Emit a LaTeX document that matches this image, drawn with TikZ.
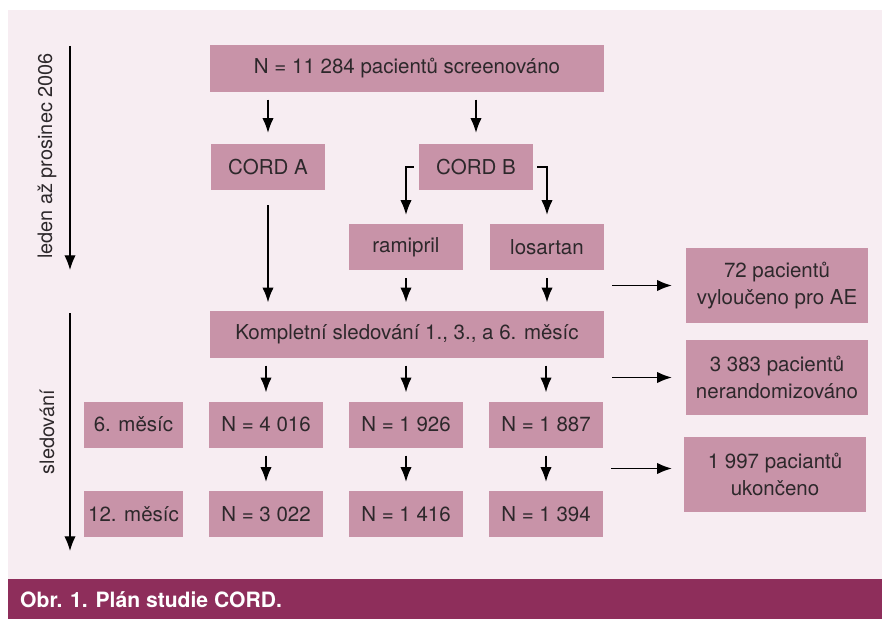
\documentclass[tikz,border=0pt]{standalone}
\usepackage{fontspec}
\setmainfont{TeX Gyre Heros}
\usepackage{xcolor}
\usepackage{tikz}
\usetikzlibrary{arrows.meta}

\definecolor{podklad}{RGB}{247,237,242}
\definecolor{ramecek}{RGB}{200,147,168}
\definecolor{lista}{RGB}{142,46,91}
\definecolor{pismo}{RGB}{45,40,43}

\tikzset{
  box/.style={fill=ramecek, text=pismo, inner sep=0pt, minimum height=1.38cm,
    font=\fontsize{17.5}{23}\selectfont, align=center},
  sipka/.style={-{Latex[length=4.4mm,width=3.4mm]}, line width=1.1pt, draw=black,
    shorten <=0.24cm, shorten >=0.27cm},
}

\begin{document}
\begin{tikzpicture}[x=0.03cm, y=-0.03cm]
\useasboundingbox (0,0) rectangle (882,619);

%% podklad a lista
\fill[white] (0,0) rectangle (882,619);
\fill[podklad] (8,10) rectangle (882,579);
\fill[lista] (8,579) rectangle (882,619);
\node[anchor=west, text=white, inner sep=0pt, font=\fontsize{18}{20}\selectfont\bfseries] (popis) at (20,600) {Obr. 1. Plán studie CORD.};

%% osa casu vlevo
\coordinate (obdobiA) at (70,46);
\coordinate (obdobiB) at (70,270);
\coordinate (sledA) at (70,313);
\coordinate (sledB) at (70,551);
\draw[sipka, shorten <=0pt, shorten >=0pt] (obdobiA) -- (obdobiB);
\draw[sipka, shorten <=0pt, shorten >=0pt] (sledA) -- (sledB);
\node[rotate=90, text=pismo, font=\fontsize{17}{20}\selectfont] (obdobi) at (47,156) {leden až prosinec 2006};
\node[rotate=90, text=pismo, font=\fontsize{17}{20}\selectfont] (sledovani) at (47,432) {sledování};

%% screening a ramena
\node[box, minimum width=11.82cm] (screen) at (407,68.5) {N = 11 284 pacientů screenováno};
\node[box, minimum width=3.42cm] (cordA) at (268,167) {CORD A};
\node[box, minimum width=3.42cm] (cordB) at (476,167) {CORD B};
\node[box, minimum width=3.42cm] (ramipril) at (406,247) {ramipril};
\node[box, minimum width=3.42cm] (losartan) at (547,247) {losartan};
\node[box, minimum width=11.82cm] (kompl) at (407,334.5) {Kompletní sledování 1., 3., a 6. měsíc};

%% mesice
\node[box, minimum width=2.97cm] (mes6) at (133.5,424.5) {6. měsíc};
\node[box, minimum width=2.97cm] (mes12) at (133.5,514) {12. měsíc};
\node[box, minimum width=3.42cm] (sestA) at (266,424.5) {N = 4 016};
\node[box, minimum width=3.42cm] (sestR) at (406,424.5) {N = 1 926};
\node[box, minimum width=3.42cm] (sestL) at (546,424.5) {N = 1 887};
\node[box, minimum width=3.42cm] (konA) at (266,514) {N = 3 022};
\node[box, minimum width=3.42cm] (konR) at (406,514) {N = 1 416};
\node[box, minimum width=3.42cm] (konL) at (546,514) {N = 1 394};

%% vyrazeni vpravo
\node[box, minimum width=5.46cm, minimum height=2.25cm] (ae) at (777,285.5) {72 pacientů\\vyloučeno pro AE};
\node[box, minimum width=5.46cm, minimum height=2.25cm] (nerand) at (777,377.5) {3 383 pacientů\\nerandomizováno};
\node[box, minimum width=5.46cm, minimum height=2.25cm] (ukonc) at (775,474.5) {1 997 paciantů\\ukončeno};

%% sipky
\draw[sipka, shorten >=0.33cm] (cordA.north |- screen.south) -- (cordA.north);
\draw[sipka, shorten >=0.33cm] (cordB.north |- screen.south) -- (cordB.north);
\draw[sipka, shorten <=0.15cm] (cordB.west) -| (ramipril.north);
\draw[sipka, shorten <=0.12cm] (cordB.east) -| (losartan.north);
\draw[sipka, shorten <=0.45cm] (cordA.south) -- (cordA.south |- kompl.north);
\draw[sipka] (ramipril.south) -- (ramipril.south |- kompl.north);
\draw[sipka] (losartan.south) -- (losartan.south |- kompl.north);
\foreach \s/\k in {sestA/konA, sestR/konR, sestL/konL} {
  \draw[sipka] (kompl.south -| \s.north) -- (\s.north);
  \draw[sipka] (\s.south) -- (\k.north);
}
\draw[sipka, shorten >=0.42cm] (ae.west -| losartan.east) -- (ae.west);
\draw[sipka, shorten >=0.42cm] (nerand.west -| kompl.east) -- (nerand.west);
\draw[sipka, shorten >=0.36cm] ([yshift=0.18cm]ukonc.west -| sestL.east) -- ([yshift=0.18cm]ukonc.west);
\end{tikzpicture}
\end{document}
